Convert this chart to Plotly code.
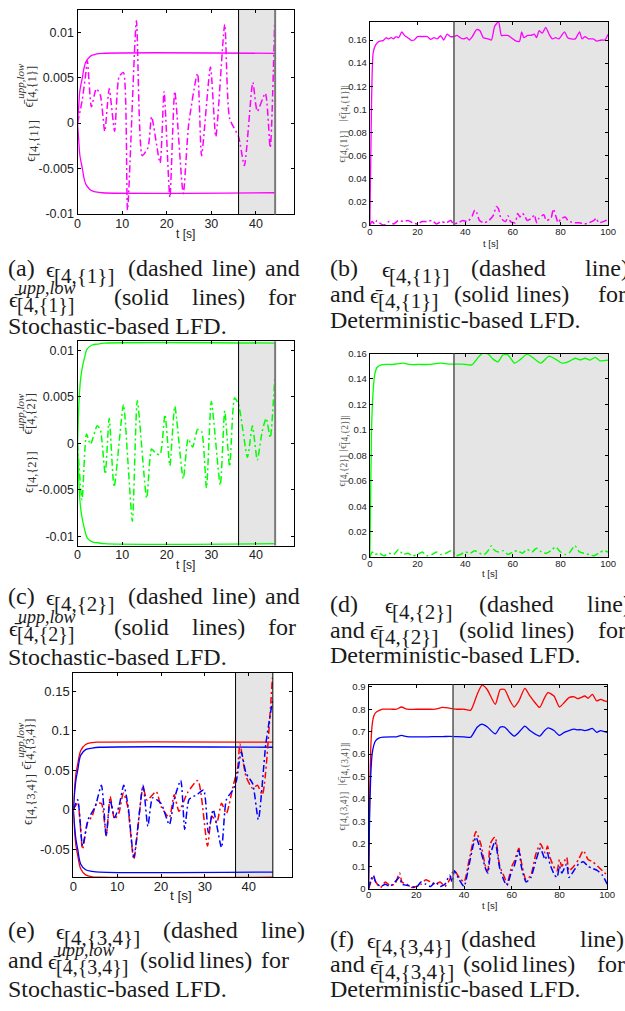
import plotly.graph_objects as go

W, H = 625, 1011

# ---------------- data ----------------
# (a) stochastic LFD, component {1}
T_BND_A = [0, 0.3, 0.5, 1.1, 1.5, 1.9, 2.7, 3.3, 4.0, 5.5, 44.3]
UPP_A = [0, 0.0022, 0.0035, 0.0051, 0.0062, 0.0068, 0.0073, 0.0075, 0.0076, 0.0077, 0.0077]
LOW_A = [0, -0.0022, -0.0035, -0.0051, -0.0062, -0.0068, -0.0073, -0.0075, -0.0076, -0.0077, -0.0077]
T_EPS_A = [0, 1.0, 1.8, 2.2, 3.1, 4.2, 5.1, 6.1, 7.1, 8.3, 9.3, 10.3, 11.2, 13.2, 14.5, 15.8,
           16.6, 18.5, 19.4, 20.7, 21.8, 23.7, 24.9, 26.9, 27.8, 29.8, 31.0, 33.0, 34.1, 36.1,
           37.4, 39.3, 40.3, 42.1, 43.2, 44.2]
EPS_A = [0, 0.0024, 0.0053, 0.0069, 0.0018, 0.0038, 0.0031, -0.0009, 0.0038, -0.0009, 0.0051,
         0.0056, -0.0096, 0.0113, -0.0036, -0.0027, 0.0007, -0.0044, 0.0035, -0.0082, 0.0035,
         -0.0078, -0.0002, 0.0055, -0.0036, 0.0062, -0.0015, 0.0109, 0.0005, -0.0015, -0.0047,
         0.0045, 0.0013, 0.0033, -0.0027, 0.0113]

# (b) deterministic LFD, component {1}
T_BAR_B = [0, 0.7, 1.4, 2.5, 4.1, 5.5, 6.9, 7.6, 9.0, 9.9, 11.0, 12.1, 13.4, 14.5, 15.9, 17.2,
           18.6, 20.0, 22.0, 24.1, 25.5, 26.9, 28.3, 29.7, 31.0, 32.4, 33.8, 35.2, 36.6, 37.9,
           39.3, 40.7, 41.7, 43.0, 44.8, 46.2, 47.6, 49.7, 51.0, 52.4, 54.0, 55.2, 56.6, 57.9,
           59.3, 61.4, 62.8, 63.7, 64.6, 66.2, 67.6, 69.0, 70.0, 71.0, 72.4, 73.8, 75.2, 76.6,
           77.9, 79.3, 81.7, 83.0, 84.4, 86.2, 88.0, 89.0, 90.3, 91.7, 93.8, 95.2, 97.2, 98.6, 100]
BAR_B = [0, 0.104, 0.149, 0.156, 0.159, 0.1595, 0.162, 0.161, 0.162, 0.161, 0.163, 0.162, 0.167,
         0.164, 0.162, 0.160, 0.160, 0.163, 0.163, 0.163, 0.1606, 0.162, 0.161, 0.1637, 0.160,
         0.165, 0.163, 0.163, 0.164, 0.162, 0.161, 0.162, 0.160, 0.163, 0.169, 0.168, 0.162,
         0.161, 0.160, 0.172, 0.1757, 0.164, 0.164, 0.164, 0.162, 0.159, 0.159, 0.167, 0.162,
         0.164, 0.164, 0.165, 0.162, 0.168, 0.166, 0.171, 0.165, 0.161, 0.162, 0.161, 0.167,
         0.162, 0.161, 0.161, 0.167, 0.161, 0.163, 0.161, 0.161, 0.159, 0.160, 0.160, 0.165]
T_EPS_B = [0, 1, 2, 3, 4, 6, 8, 10, 12, 14, 16, 18, 20, 22, 24, 26, 28, 30, 32, 34, 35, 37, 39,
           41, 43, 44, 45, 46, 48, 50, 52, 53, 54, 55, 57, 58, 59, 61, 62, 63, 64, 65, 66, 68,
           69, 70, 71, 73, 74, 76, 77, 78, 79, 80, 82, 83, 84, 86, 88, 90, 92, 94, 95, 96, 98, 100]
EPS_B = [0, .003, .001, .004, .002, 0, .003, .001, .004, .003, .004, .002, .001, .003, .003,
         .004, .001, .003, .002, .004, .001, .002, .004, .003, .008, .013, .010, .004, .002,
         .004, .009, .016, .014, .006, .003, .008, .003, .002, .010, .007, .010, .008, .004,
         .006, .009, .002, .006, .009, .004, .006, .014, .008, .002, .005, .007, .004, .003,
         .002, .002, .001, .002, .004, .006, .002, .003, .005]

# (c) stochastic LFD, component {2}
T_BND_C = [0, 0.2, 0.4, 0.7, 1.0, 1.5, 2.2, 3.3, 4.5, 6.0, 44.3]
UPP_C = [0, 0.0030, 0.0052, 0.0070, 0.0080, 0.0091, 0.0102, 0.0106, 0.0107, 0.0108, 0.0108]
LOW_C = [0, -0.0030, -0.0052, -0.0070, -0.0080, -0.0091, -0.0102, -0.0106, -0.0107, -0.0108, -0.0108]
T_EPS_C = [0, 1.0, 2.0, 2.9, 4.4, 5.1, 6.2, 7.1, 8.2, 10.3, 11.2, 12.3, 13.4, 15.5, 16.6, 17.6,
           18.5, 19.6, 20.7, 21.8, 23.7, 24.8, 25.8, 26.9, 27.8, 28.9, 30.0, 32.0, 33.0, 34.1,
           35.2, 36.1, 38.1, 39.2, 40.3, 41.4, 42.3, 43.2, 44.2]
EPS_C = [0, -0.0061, 0.0010, -0.0001, 0.0019, 0.0015, -0.0033, 0.0027, -0.0047, 0.0042, -0.0013,
         -0.0084, 0.0046, -0.0059, -0.0006, -0.0011, -0.0012, 0.0031, -0.0024, 0.0040, -0.0038,
         0.0005, -0.0004, 0.0015, 0.0013, -0.0048, 0.0045, -0.0045, 0.0035, -0.0025, 0.0049,
         0.0042, -0.0015, 0.0019, -0.0018, 0.0013, 0.0027, 0.0006, 0.0070]

# (d) deterministic LFD, component {2}
T_BAR_D = [0, 0.7, 1.4, 2.1, 3.0, 4.8, 6.9, 9.7, 14.1, 16.6, 20.7, 24.8, 29.7, 33.1, 38.6, 42.8,
           45.5, 47.6, 49.7, 51.7, 53.8, 55.9, 57.9, 60.7, 63.4, 65.9, 68.3, 71.7, 75.2, 77.9,
           80.7, 83.4, 86.2, 88.3, 90.3, 92.4, 94.5, 96.6, 100]
BAR_D = [0, 0.0996, 0.131, 0.144, 0.149, 0.151, 0.1514, 0.1514, 0.1524, 0.1514, 0.1514, 0.1514,
         0.1524, 0.1517, 0.1517, 0.1511, 0.157, 0.1605, 0.1595, 0.1556, 0.1535, 0.159, 0.159,
         0.1524, 0.1556, 0.1595, 0.157, 0.1524, 0.158, 0.1556, 0.1524, 0.1537, 0.1563, 0.155,
         0.1563, 0.1548, 0.157, 0.1543, 0.1548]
T_EPS_D = [0, 1, 2, 4, 6, 8, 10, 12, 13, 14, 16, 18, 20, 22, 24, 26, 28, 30, 32, 34, 35, 36, 38,
           40, 42, 44, 46, 48, 50, 51, 52, 54, 56, 58, 60, 62, 64, 66, 68, 70, 72, 74, 76, 78,
           80, 82, 84, 86, 88, 90, 92, 94, 96, 98, 100]
EPS_D = [0, .004, .002, .003, .001, .003, .002, .006, .004, .002, .003, .001, .002, .004, .001,
         .002, .004, .002, .003, .005, .004, .001, .002, .004, .003, .005, .003, .002, .006,
         .009, .006, .004, .005, .002, .004, .005, .003, .006, .004, .007, .004, .003, .005,
         .008, .004, .002, .004, .009, .004, .003, .002, .001, .003, .005, .004]

# (e) stochastic LFD, component {3,4}
T_BND_E = [0, 0.3, 0.6, 1.0, 1.7, 2.8, 4.3, 6.0, 45.5]
UPP_E_RED = [0, 0.028, 0.046, 0.058, 0.075, 0.0825, 0.0850, 0.0855, 0.0855]
LOW_E_RED = [0, -0.028, -0.046, -0.058, -0.075, -0.0825, -0.0850, -0.0855, -0.0855]
UPP_E_BLUE = [0, 0.022, 0.038, 0.050, 0.069, 0.076, 0.078, 0.079, 0.079]
LOW_E_BLUE = [0, -0.022, -0.038, -0.050, -0.069, -0.076, -0.078, -0.079, -0.079]
T_EPS_E_RED = [0, 1.0, 2.1, 3.2, 4.3, 5.3, 6.4, 7.5, 8.4, 9.4, 10.4, 11.4, 12.4, 13.8, 15.9, 16.8,
               18.9, 20.0, 21.9, 23.0, 24.1, 26.0, 28.4, 30.6, 31.6, 32.7, 33.8, 34.9, 36.4,
               37.5, 38.0, 39.4, 40.9, 42.0, 43.1, 45.4]
EPS_E_RED = [0, 0.008, -0.050, -0.017, -0.008, 0.008, 0.008, -0.033, 0.017, -0.012, -0.004,
             0.021, 0.004, -0.063, 0.029, 0.012, 0.023, 0.004, -0.010, 0.019, -0.002, 0.021,
             0.037, -0.046, -0.008, -0.017, 0.008, -0.005, 0.029, 0.054, 0.083, 0.042, 0.027,
             0.031, 0.019, 0.167]
T_EPS_E_BLUE = [0, 1.0, 2.1, 3.4, 5.0, 6.4, 7.5, 8.4, 9.4, 10.4, 11.5, 12.5, 13.8, 15.9, 17.0,
                18.1, 20.0, 21.9, 23.0, 24.5, 25.4, 26.4, 28.2, 29.7, 30.8, 31.9, 33.8, 34.9,
                36.4, 37.2, 38.3, 39.4, 40.9, 42.2, 43.9, 45.4]
EPS_E_BLUE = [0, 0.0125, -0.046, -0.012, 0.004, 0.031, -0.033, 0.012, -0.010, 0.004, 0.031,
              0.004, -0.060, 0.031, -0.021, 0.015, 0.008, -0.019, 0.013, 0.037, -0.025, 0.013,
              0.019, 0.025, -0.029, 0.0, -0.048, 0.0125, 0.025, 0.037, 0.073, 0.046, 0.033,
              -0.0125, 0.083, 0.137]

# (f) deterministic LFD, component {3,4}
T_BAR_F = [0, 0.4, 0.9, 1.5, 2.2, 3.0, 4.5, 6.0, 10.0, 11.7, 13.8, 16.0, 20.0, 25.0, 28.0, 31.0,
           33.8, 37.0, 40.0, 42.8, 45.5, 47.6, 49.7, 53.1, 55.2, 57.0, 59.3, 61.0, 63.0, 65.5,
           67.6, 69.7, 71.7, 73.8, 75.2, 77.7, 80.0, 82.0, 84.0, 86.2, 87.6, 89.0, 90.6, 92.0,
           93.8, 95.6, 97.2, 98.9, 100]
BAR_F_RED = [0, 0.38, 0.62, 0.73, 0.77, 0.785, 0.795, 0.80, 0.80, 0.80, 0.81, 0.80, 0.80, 0.80,
             0.80, 0.808, 0.805, 0.80, 0.80, 0.796, 0.866, 0.907, 0.888, 0.822, 0.888, 0.888,
             0.837, 0.81, 0.837, 0.893, 0.859, 0.83, 0.808, 0.852, 0.874, 0.859, 0.81, 0.83,
             0.852, 0.855, 0.847, 0.852, 0.859, 0.849, 0.866, 0.837, 0.844, 0.837, 0.834]
BAR_F_BLUE = [0, 0.30, 0.50, 0.60, 0.64, 0.66, 0.672, 0.676, 0.677, 0.677, 0.683, 0.678, 0.677,
              0.677, 0.678, 0.678, 0.679, 0.678, 0.677, 0.675, 0.72, 0.734, 0.722, 0.69, 0.72,
              0.72, 0.695, 0.68, 0.697, 0.725, 0.705, 0.69, 0.68, 0.705, 0.717, 0.705, 0.683,
              0.697, 0.705, 0.711, 0.708, 0.709, 0.705, 0.708, 0.715, 0.697, 0.705, 0.70, 0.697]
T_EPS_F = [0, 1, 2, 3, 5, 7, 9, 11, 13, 14, 16, 18, 20, 22, 24, 26, 28, 30, 32, 34, 35, 36, 38,
           40, 42, 44, 45, 47, 49, 50, 51, 53, 55, 57, 58, 60, 61, 63, 64, 66, 68, 70, 72, 74,
           75, 76, 78, 79, 80, 81, 83, 84, 86, 88, 90, 92, 94, 96, 98, 100]
EPS_F_RED = [0, .03, .05, .03, .005, .03, .015, .02, .07, .03, .02, .005, .01, .02, .04, .03,
             .02, .03, .01, .04, .07, .08, .05, .03, .12, .22, .255, .2, .1, .08, .2, .23, .1,
             .05, .02, .1, .12, .18, .12, .04, .06, .15, .2, .16, .19, .14, .09, .08, .13, .1,
             .14, .08, .1, .13, .17, .13, .12, .1, .08, .06]
EPS_F_BLUE = [0, .04, .06, .03, .01, .02, .01, .03, .05, .02, .015, .01, .005, .03, .02, .01,
              .03, .01, .02, .06, .03, .08, .04, .01, .1, .2, .23, .17, .09, .07, .15, .21, .09,
              .03, .015, .08, .1, .17, .1, .03, .05, .12, .18, .13, .16, .11, .06, .05, .1, .07,
              .11, .05, .08, .11, .12, .1, .09, .08, .06, .02]

# tick values / labels
XT_STOCH = [0, 10, 20, 30, 40]
XT_DET = [0, 20, 40, 60, 80, 100]
YT_A = [-0.01, -0.005, 0, 0.005, 0.01]
YL_A = ["-0.01", "-0.005", "0", "0.005", "0.01"]
YT_B = [0, 0.02, 0.04, 0.06, 0.08, 0.1, 0.12, 0.14, 0.16]
YL_B = ["0", "0.02", "0.04", "0.06", "0.08", "0.1", "0.12", "0.14", "0.16"]
YT_E = [-0.05, 0, 0.05, 0.1, 0.15]
YL_E = ["-0.05", "0", "0.05", "0.1", "0.15"]
YT_F = [0, 0.1, 0.2, 0.3, 0.4, 0.5, 0.6, 0.7, 0.8, 0.9]
YL_F = ["0", "0.1", "0.2", "0.3", "0.4", "0.5", "0.6", "0.7", "0.8", "0.9"]

# ---------------- styling ----------------
MAGENTA, GREEN, RED, BLUE = "#FF00FF", "#00FF00", "#FF0000", "#0000FF"
SHADE = "#E5E5E5"
INK = "#1a1a1a"
SANS = "Liberation Sans, Arial, sans-serif"
SERIF = "Liberation Serif, Times New Roman, serif"
DASH = "7px,3px,2px,3px"
CAP_SIZE = 24


def fx(x):
    return x / W


def fy(y):
    return 1 - y / H


fig = go.Figure()

# panel geometry in pixels (left, top, right, bottom)
PANELS = {
    1: dict(box=(75, 4, 296, 211), xr=[0, 48.6], yr=[-0.0101, 0.0125], xt=XT_STOCH,
            yt=YT_A, yl=YL_A, fs=12.5, shade=(36.1, 44.3)),
    2: dict(box=(373, 15.7, 616, 221.7), xr=[0, 100], yr=[0, 0.176], xt=XT_DET,
            yt=YT_B, yl=YL_B, fs=9.5, shade=(35.3, 100)),
    3: dict(box=(75, 339.3, 296, 546), xr=[0, 48.6], yr=[-0.011, 0.011], xt=XT_STOCH,
            yt=YT_A, yl=YL_A, fs=12.5, shade=(36.1, 44.3)),
    4: dict(box=(373, 351.7, 616, 557.7), xr=[0, 100], yr=[0, 0.16], xt=XT_DET,
            yt=YT_B, yl=YL_B, fs=9.5, shade=(35.3, 100)),
    5: dict(box=(70.7, 675, 293.3, 881.7), xr=[0, 49.8], yr=[-0.0855, 0.173], xt=XT_STOCH,
            yt=YT_E, yl=YL_E, fs=13, shade=(37.0, 45.5)),
    6: dict(box=(371.7, 686.7, 615, 893.3), xr=[0, 100], yr=[0, 0.91], xt=XT_DET,
            yt=YT_F, yl=YL_F, fs=9.5, shade=(35.4, 100)),
}

layout_axes = {}
shapes = []
for n, p in PANELS.items():
    l, t, r, b = p["box"]
    sfx = "" if n == 1 else str(n)
    common = dict(showline=True, linecolor="black", linewidth=1.2, mirror="ticks",
                  ticks="inside", ticklen=3, tickwidth=1, tickcolor="black",
                  showgrid=False, zeroline=False,
                  tickfont=dict(family=SANS, size=p["fs"], color="#222"))
    layout_axes["xaxis" + sfx] = dict(common, domain=[fx(l), fx(r)], range=p["xr"],
                                      tickvals=p["xt"], ticktext=[str(v) for v in p["xt"]],
                                      anchor="y" + sfx, ticklabelstandoff=-3)
    layout_axes["yaxis" + sfx] = dict(common, domain=[fy(b), fy(t)], range=p["yr"],
                                      tickvals=p["yt"], ticktext=p["yl"], anchor="x" + sfx)
    s0, s1 = p["shade"]
    shapes.append(dict(type="rect", xref="x" + sfx, yref="y" + sfx + " domain",
                       x0=s0, x1=s1, y0=0, y1=1, fillcolor=SHADE, line_width=0,
                       layer="below"))
    if n in (1, 3):
        shapes.append(dict(type="line", xref="x" + sfx, yref="y" + sfx + " domain",
                           x0=s0, x1=s0, y0=0, y1=1, line=dict(color="black", width=1)))
        shapes.append(dict(type="line", xref="x" + sfx, yref="y" + sfx + " domain",
                           x0=s1, x1=s1, y0=0, y1=1, line=dict(color="#7a7a7a", width=2)))
    elif n == 5:
        for xv in (s0, s1):
            shapes.append(dict(type="line", xref="x" + sfx, yref="y" + sfx + " domain",
                               x0=xv, x1=xv, y0=0, y1=1, line=dict(color="black", width=1)))
    else:
        shapes.append(dict(type="line", xref="x" + sfx, yref="y" + sfx + " domain",
                           x0=s0, x1=s0, y0=0, y1=1, line=dict(color="#555", width=1.5)))


def line(n, x, y, color, dashed=False, width=None, smooth=0.6):
    sfx = "" if n == 1 else str(n)
    fig.add_trace(go.Scatter(
        x=x, y=y, mode="lines", xaxis="x" + sfx, yaxis="y" + sfx,
        line=dict(color=color, width=width or (1.5 if dashed else 1.3),
                  dash=DASH if dashed else "solid", shape="spline", smoothing=smooth),
        showlegend=False, hoverinfo="skip"))


# (a)
line(1, T_BND_A, UPP_A, MAGENTA, smooth=1)
line(1, T_BND_A, LOW_A, MAGENTA, smooth=1)
line(1, T_EPS_A, EPS_A, MAGENTA, dashed=True)
# (b)
line(2, T_BAR_B, BAR_B, MAGENTA)
line(2, T_EPS_B, EPS_B, MAGENTA, dashed=True)
# (c)
line(3, T_BND_C, UPP_C, GREEN, smooth=1)
line(3, T_BND_C, LOW_C, GREEN, smooth=1)
line(3, T_EPS_C, EPS_C, GREEN, dashed=True)
# (d)
line(4, T_BAR_D, BAR_D, GREEN)
line(4, T_EPS_D, EPS_D, GREEN, dashed=True)
# (e)
line(5, T_BND_E, UPP_E_RED, RED, smooth=1)
line(5, T_BND_E, LOW_E_RED, RED, smooth=1)
line(5, T_BND_E, UPP_E_BLUE, BLUE, smooth=1)
line(5, T_BND_E, LOW_E_BLUE, BLUE, smooth=1)
line(5, T_EPS_E_RED, EPS_E_RED, RED, dashed=True)
line(5, T_EPS_E_BLUE, EPS_E_BLUE, BLUE, dashed=True)
# (f)
line(6, T_BAR_F, BAR_F_RED, RED)
line(6, T_BAR_F, BAR_F_BLUE, BLUE)
line(6, T_EPS_F, EPS_F_RED, RED, dashed=True)
line(6, T_EPS_F, EPS_F_BLUE, BLUE, dashed=True)

annotations = []


def put(x, y, s, size, family=SERIF, color=INK, angle=0, xanchor="left", style="normal"):
    annotations.append(dict(x=fx(x), y=fy(y), xref="paper", yref="paper", text=s,
                            showarrow=False, xanchor=xanchor, yanchor="middle",
                            textangle=angle, borderpad=0, borderwidth=0,
                            font=dict(family=family, size=size, color=color, style=style)))


def subscr(s, size):
    return "<sub><span style='font-size:%gpx'>%s</span></sub>" % (size, s)


# axis titles
for x, y, s in [(185, 231, 12), (496, 240, 9.5), (185, 566, 12), (495, 574, 9.5),
                (180, 900, 13.5), (495, 910, 9.5)]:
    put(x, y, "t [s]", s, family=SANS, color="#222", xanchor="center")

# rotated y labels: (x, y, symbol, subscript, size, subscript size, colour)
YLABELS = [
    (29, 136, "ϵ", "[4,{1}]", 14, 12.5, "#333"),
    (27, 81, "ϵ̄", "[4,{1}]", 14, 12.5, "#333"),
    (345, 142, "ϵ", "[4,{1}]", 11, 9.5, "#555"),
    (345, 98, "|ϵ̄", "[4,{1}]|", 11, 9.5, "#555"),
    (27, 471, "ϵ", "[4,{2}]", 14, 12.5, "#333"),
    (26, 413, "ϵ̄", "[4,{2}]", 14, 12.5, "#333"),
    (345, 470, "ϵ", "[4,{2}]", 11, 9.5, "#555"),
    (345, 432, "|ϵ̄", "[4,{2}]|", 11, 9.5, "#555"),
    (26, 803, "ϵ", "[4,{3,4}]", 14, 12.5, "#333"),
    (25, 747, "ϵ̄", "[4,{3,4}]", 14, 12.5, "#333"),
    (345, 815, "ϵ", "[4,{3,4}]", 11, 9.5, "#555"),
    (345, 767, "|ϵ̄", "[4,{3,4}]|", 11, 9.5, "#555"),
]
for x, y, sym, sub, size, ssize, col in YLABELS:
    put(x, y, sym + subscr(sub, ssize), size, color=col, angle=-90, xanchor="center")
for x, y in [(16, 76), (16, 410), (17, 743)]:
    put(x, y, "upp,low", 11, color="#333", angle=-90, xanchor="center", style="italic")

# captions: ("w", x, y, word) or ("e", x, y, subscript, bar, superscript)
CAPTIONS = [
    # (a)
    ("w", 4, 265, "(a)"), ("e", 43, 265, "[4,{1}]", False, None), ("w", 126, 265, "(dashed"),
    ("w", 212, 265, "line)"), ("w", 266, 265, "and"),
    ("e", 5, 295, "[4,{1}]", True, "upp,low"), ("w", 112, 295, "(solid"),
    ("w", 192, 295, "lines)"), ("w", 269, 295, "for"),
    ("w", 4, 324, "Stochastic-based LFD."),
    # (b)
    ("w", 332, 265, "(b)"), ("e", 385, 265, "[4,{1}]", False, None), ("w", 476, 265, "(dashed"),
    ("w", 592, 265, "line)"),
    ("w", 332, 291, "and"), ("e", 373, 291, "[4,{1}]", True, None), ("w", 459, 291, "(solid"),
    ("w", 522, 291, "lines)"), ("w", 606, 291, "for"),
    ("w", 332, 318, "Deterministic-based LFD."),
    # (c)
    ("w", 4, 597, "(c)"), ("e", 43, 597, "[4,{2}]", False, None), ("w", 126, 597, "(dashed"),
    ("w", 212, 597, "line)"), ("w", 266, 597, "and"),
    ("e", 5, 628, "[4,{2}]", True, "upp,low"), ("w", 112, 628, "(solid"),
    ("w", 192, 628, "lines)"), ("w", 269, 628, "for"),
    ("w", 4, 659, "Stochastic-based LFD."),
    # (d)
    ("w", 332, 605, "(d)"), ("e", 388, 605, "[4,{2}]", False, None), ("w", 484, 605, "(dashed"),
    ("w", 594, 605, "line)"),
    ("w", 332, 631, "and"), ("e", 373, 631, "[4,{2}]", True, None), ("w", 464, 631, "(solid"),
    ("w", 527, 631, "lines)"), ("w", 606, 631, "for"),
    ("w", 332, 657, "Deterministic-based LFD."),
    # (e)
    ("w", 4, 935, "(e)"), ("e", 53, 935, "[4,{3,4}]", False, None), ("w", 162, 935, "(dashed"),
    ("w", 262, 935, "line)"),
    ("w", 4, 965, "and"), ("e", 45, 965, "[4,{3,4}]", True, "upp,low"), ("w", 139, 965, "(solid"),
    ("w", 199, 965, "lines)"), ("w", 262, 965, "for"),
    ("w", 4, 995, "Stochastic-based LFD."),
    # (f)
    ("w", 332, 944, "(f)"), ("e", 370, 944, "[4,{3,4}]", False, None), ("w", 466, 944, "(dashed"),
    ("w", 587, 944, "line)"),
    ("w", 332, 970, "and"), ("e", 373, 970, "[4,{3,4}]", True, None), ("w", 468, 970, "(solid"),
    ("w", 528, 970, "lines)"), ("w", 605, 970, "for"),
    ("w", 332, 995, "Deterministic-based LFD."),
]
for item in CAPTIONS:
    if item[0] == "w":
        _, x, y, s = item
        put(x, y, s, CAP_SIZE)
    else:
        _, x, y, sub, bar, sup = item
        put(x, y + 2, "ϵ̄" if bar else "ϵ", 22)
        put(x + 8, y + 8, sub, 20 if sup else 21)
        if sup:
            put(x + 9, y - 10, sup, 18, style="italic")

fig.update_layout(
    width=W, height=H, margin=dict(l=0, r=0, t=0, b=0),
    paper_bgcolor="white", plot_bgcolor="white",
    font=dict(family=SANS, color=INK),
    shapes=shapes, annotations=annotations, showlegend=False,
    **layout_axes,
)

fig.write_html("out.html")
